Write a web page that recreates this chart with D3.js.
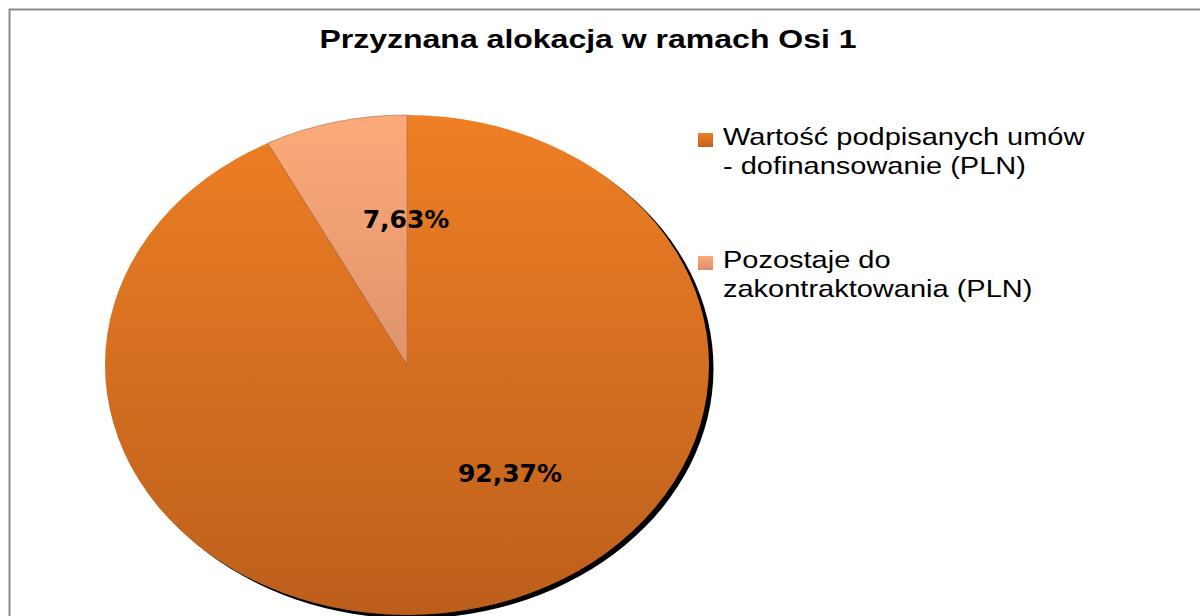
<!DOCTYPE html>
<html>
<head>
<meta charset="utf-8">
<script src="https://cdn.jsdelivr.net/npm/d3@7"></script>
<style>
  body { margin: 0; background: #fff; }
  svg { display: block; }
</style>
</head>
<body>
<svg width="1200" height="616"></svg>
<script>
let svg = d3.select('svg');

// data
let categories = ['Wartość podpisanych umów - dofinansowanie (PLN)', 'Pozostaje do zakontraktowania (PLN)'];
let legendLines = [['Wartość podpisanych umów', '- dofinansowanie (PLN)'], ['Pozostaje do', 'zakontraktowania (PLN)']];
let shares = [92.37, 7.63];
let labels = ['92,37%', '7,63%'];
let title = 'Przyznana alokacja w ramach Osi 1';

// layout - the original image is stretched horizontally
let cx = 407, cy = 365, ry = 250, rx = 302;
let sx = rx / ry;
let labelOffsets = [[103, 117], [-1, -137]]; // label centre relative to pie centre (px)

let defs = svg.append('defs');
let grads = [['#ee7f25', '#bc5f1c'], ['#fcaa79', '#c17d5f']];
grads.forEach(function(g, i) {
    let lg = defs.append('linearGradient')
        .attr('id', 'grad' + i)
        .attr('gradientUnits', 'userSpaceOnUse')
        .attr('x1', 0).attr('y1', -ry).attr('x2', 0).attr('y2', ry);
    lg.append('stop').attr('offset', '0%').attr('stop-color', g[0]);
    lg.append('stop').attr('offset', '100%').attr('stop-color', g[1]);
});
let lgLeg = [['#ee7f25', '#c0611d'], ['#fcaa79', '#d98d6c']];
lgLeg.forEach(function(g, i) {
    let lg = defs.append('linearGradient')
        .attr('id', 'leg' + i)
        .attr('x1', 0).attr('y1', 0).attr('x2', 0).attr('y2', 1);
    lg.append('stop').attr('offset', '0%').attr('stop-color', g[0]);
    lg.append('stop').attr('offset', '100%').attr('stop-color', g[1]);
});
defs.append('filter').attr('id', 'blurMe')
    .append('feGaussianBlur').attr('stdDeviation', 0.5);

// chart frame
svg.append('rect')
    .attr('x', 9.5).attr('y', 9.5)
    .attr('width', 1300).attr('height', 700)
    .attr('fill', 'none')
    .attr('stroke', '#8a8a8a')
    .attr('stroke-width', 2);

svg.append('text')
    .attr('transform', 'translate(588,48) scale(' + sx + ',1)')
    .attr('text-anchor', 'middle')
    .attr('font-family', 'Liberation Sans, Arial, sans-serif')
    .attr('font-weight', 'bold')
    .attr('font-size', '26.5px')
    .attr('fill', '#000')
    .text(title);

let pie = d3.pie().sort(null).value(d => d);
let arcs = pie(shares);
let arc = d3.arc().innerRadius(0).outerRadius(ry);

let g = svg.append('g')
    .attr('transform', 'translate(' + cx + ',' + cy + ') scale(' + sx + ',1)');

// shadow
g.append('ellipse')
    .attr('cx', 4.5 / sx).attr('cy', 3.5)
    .attr('rx', ry).attr('ry', ry)
    .attr('fill', '#000')
    .attr('filter', 'url(#blurMe)');

g.selectAll('.slice')
    .data(arcs)
    .enter()
    .append('path')
    .attr('class', 'slice')
    .attr('d', arc)
    .attr('fill', (d, i) => 'url(#grad' + i + ')')
    .attr('stroke', (d, i) => i == 1 ? '#b86a45' : 'none')
    .attr('stroke-width', 0.6);

svg.selectAll('.pct')
    .data(labels)
    .enter()
    .append('text')
    .attr('class', 'pct')
    .attr('x', (d, i) => cx + labelOffsets[i][0])
    .attr('y', (d, i) => cy + labelOffsets[i][1])
    .attr('text-anchor', 'middle')
    .attr('font-family', 'DejaVu Sans, Verdana, sans-serif')
    .attr('font-weight', 'bold')
    .attr('font-size', '25px')
    .attr('fill', '#000')
    .text(d => d);

// legend
let leg = svg.selectAll('.legend')
    .data(categories)
    .enter()
    .append('g')
    .attr('class', 'legend')
    .attr('transform', (d, i) => 'translate(698,' + (133 + i * 123) + ')');

leg.append('rect')
    .attr('width', 15).attr('height', 14)
    .attr('fill', (d, i) => 'url(#leg' + i + ')');

leg.append('text')
    .attr('transform', 'translate(25,0) scale(' + sx + ',1)')
    .attr('font-family', 'Liberation Sans, Arial, sans-serif')
    .attr('font-size', '24px')
    .attr('fill', '#000')
    .selectAll('tspan')
    .data((d, i) => legendLines[i])
    .enter()
    .append('tspan')
    .attr('x', 0)
    .attr('y', (d, j) => 12 + j * 29.5)
    .text(d => d);
</script>
</body>
</html>
